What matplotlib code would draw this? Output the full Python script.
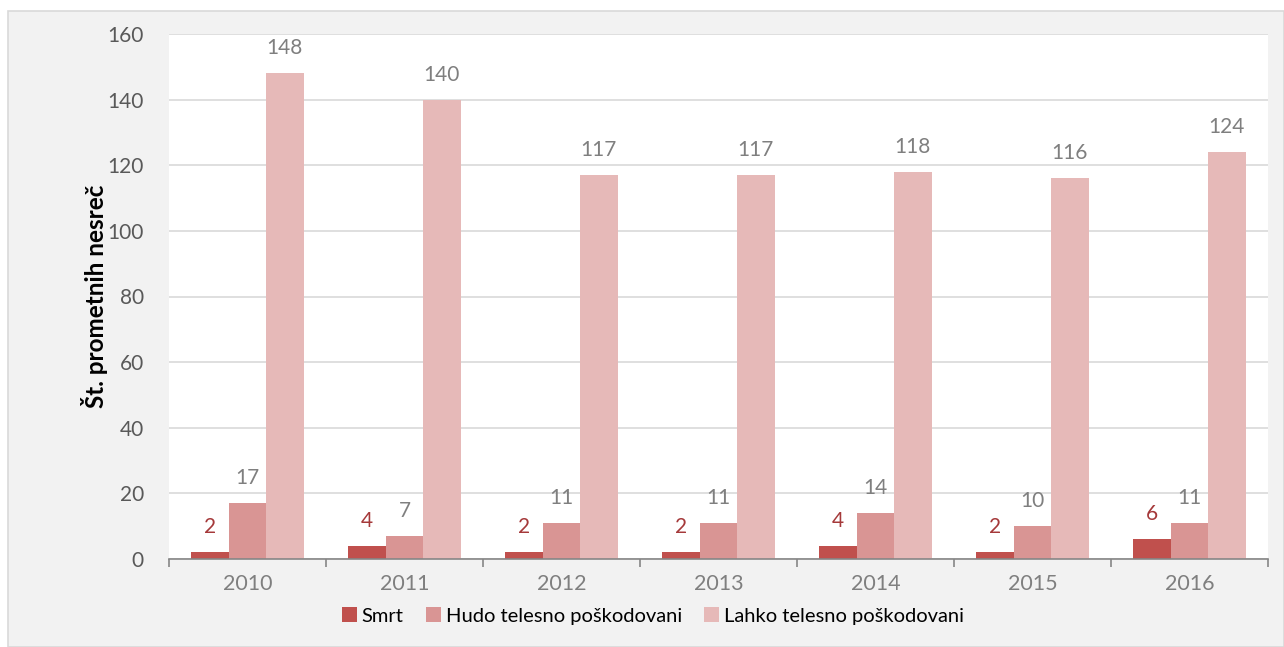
import numpy as np
import matplotlib
matplotlib.use('Agg')
import matplotlib.pyplot as plt
from matplotlib.patches import Rectangle

years = ['2010', '2011', '2012', '2013', '2014', '2015', '2016']
smrt = [2, 4, 2, 2, 4, 2, 6]
hudo = [17, 7, 11, 11, 14, 10, 11]
lahko = [148, 140, 117, 117, 118, 116, 124]
series_names = ['Smrt', 'Hudo telesno poškodovani', 'Lahko telesno poškodovani']
y_ticks = [0, 20, 40, 60, 80, 100, 120, 140, 160]

colors = ['#C0504D', '#D99594', '#E6B9B8']
label_colors = ['#A5393A', '#7F7F7F', '#7F7F7F']

plt.rcParams['font.family'] = ['Lato', 'DejaVu Sans']

fig = plt.figure(figsize=(12.84, 6.47), dpi=100)
fig.patch.set_facecolor('white')
fig.patches.append(Rectangle((8 / 1284, 0), 1 - 8 / 1284, 1 - 11 / 647,
                             transform=fig.transFigure, facecolor='#F2F2F2',
                             edgecolor='#D9D9D9', lw=1.2, zorder=-10))

ax = fig.add_axes([169 / 1284, 1 - 559 / 647, (1268 - 169) / 1284, (559 - 34) / 647])
ax.set_facecolor('white')

x = np.arange(len(years))
w = 0.238
for i, (vals, name) in enumerate(zip([smrt, hudo, lahko], series_names)):
    pos = x + (i - 1) * w
    bars = ax.bar(pos, vals, width=w, color=colors[i], label=name, zorder=3)
    for xp, v in zip(pos, vals):
        ax.annotate(str(v), (xp, v), xytext=(0, 18), textcoords='offset points',
                    ha='center', va='center', fontsize=15, color=label_colors[i])

ax.set_xlim(-0.5, len(years) - 0.5)
ax.set_ylim(0, 160)
ax.set_yticks(y_ticks)
ax.yaxis.grid(True, color='#D9D9D9', lw=1.2, zorder=0)
ax.tick_params(axis='y', length=0, labelsize=15, labelcolor='#595959', pad=18)

ax.set_xticks(x)
ax.set_xticklabels(years)
ax.set_xticks(np.arange(-0.5, len(years)), minor=True)
ax.tick_params(axis='x', which='major', length=0, labelsize=15.5, labelcolor='#7F7F7F', pad=11)
ax.tick_params(axis='x', which='minor', length=6, width=1.2, color='#868686')

for s in ['top', 'right', 'left']:
    ax.spines[s].set_visible(False)
ax.spines['bottom'].set_color('#868686')
ax.spines['bottom'].set_linewidth(1.2)
ax.spines['bottom'].set_zorder(4)

ax.set_ylabel('Št. prometnih nesreč', fontsize=17.5, fontweight='bold', va='center')
ax.yaxis.set_label_coords((95 - 169) / 1099, 0.5)

fig.legend(loc='center', bbox_to_anchor=(653 / 1284, 1 - 616 / 647), ncol=3,
           frameon=False, fontsize=14.5, handlelength=0.75, handleheight=0.75,
           handletextpad=0.25, columnspacing=1.1)

fig.savefig('out.png', dpi=100, facecolor=fig.get_facecolor())
